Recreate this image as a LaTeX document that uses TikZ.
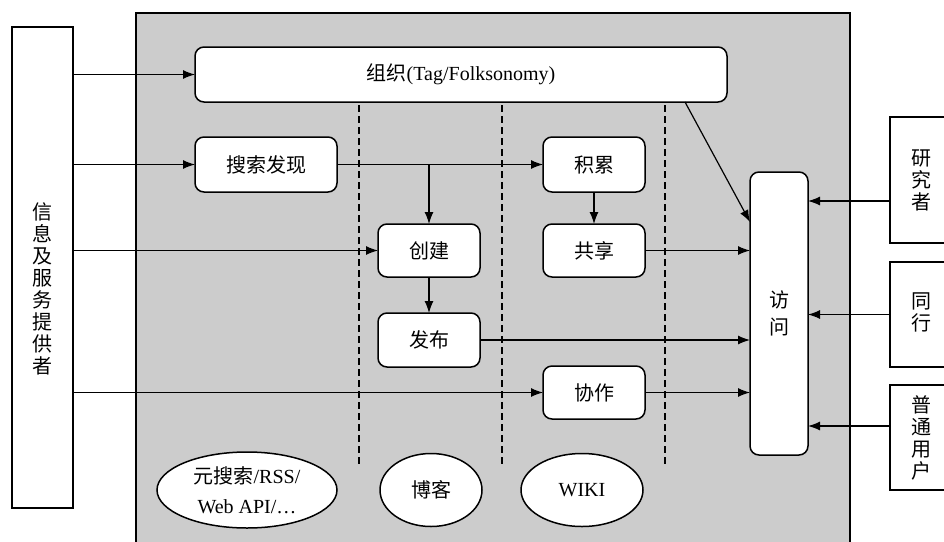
\documentclass[tikz,border=0pt]{standalone}
\usepackage{fontspec}
\setmainfont{Liberation Serif}
\newfontfamily\cjk{Noto Sans CJK SC}
\usetikzlibrary{shapes.geometric,arrows.meta,calc}
\begin{document}
\begin{tikzpicture}[x=1pt,y=-1pt,
  every node/.style={inner sep=0pt, outer sep=0pt},
  rbox/.style={draw, fill=white, rounded corners=9pt, line width=1.5pt, font=\fontsize{20}{24}\selectfont},
  sqbox/.style={draw, fill=white, line width=1.2pt},
  oval/.style={ellipse, draw, fill=white, line width=1.5pt, align=center, font=\fontsize{20}{30}\selectfont},
  arr/.style={line width=1.2pt, -{Latex[length=12pt,width=9pt]}},
  vtext/.style={align=center, font=\cjk\fontsize{20}{22}\selectfont},
  sep/.style={dash pattern=on 7pt off 4pt, line width=1.4pt}
]
\useasboundingbox (0,0) rectangle (944,541);
\clip (0,0) rectangle (944,541);
\fill[white] (0,0) rectangle (944,541);

% shaded panel
\draw[fill=black!20, line width=1.2pt] (136,13) rectangle (850,560);

% dashed separators
\draw[sep] (359,105) -- (359,466);
\draw[sep] (502,105) -- (502,466);
\draw[sep] (665,105) -- (665,464);

% left provider box
\node[sqbox, minimum width=61pt, minimum height=481pt] (prov) at (42.5,267.5) {};
\node[vtext] (provt) at (42.5,289) {信\\息\\及\\服\\务\\提\\供\\者};

% right user boxes
\node[sqbox, minimum width=62pt, minimum height=126pt] (res) at (921,180) {};
\node[vtext] (rest) at (921,180) {研\\究\\者};
\node[sqbox, minimum width=62pt, minimum height=105pt] (peer) at (921,314.5) {};
\node[vtext] (peert) at (921,312) {同\\行};
\node[sqbox, minimum width=62pt, minimum height=105pt] (user) at (921,437.5) {};
\node[vtext] (usert) at (921,437.5) {普\\通\\用\\户};

% rounded boxes
\node[rbox, minimum width=532pt, minimum height=55pt] (org) at (461,74.5) {{\cjk 组织}(Tag/Folksonomy)};
\node[rbox, minimum width=142pt, minimum height=55pt] (search) at (266,164.5) {\cjk 搜索发现};
\node[rbox, minimum width=102pt, minimum height=53pt] (create) at (429,250.5) {\cjk 创建};
\node[rbox, minimum width=102pt, minimum height=54pt] (publish) at (429,340) {\cjk 发布};
\node[rbox, minimum width=102pt, minimum height=55pt] (accum) at (594,164.5) {\cjk 积累};
\node[rbox, minimum width=102pt, minimum height=53pt] (share) at (594,250.5) {\cjk 共享};
\node[rbox, minimum width=102pt, minimum height=53pt] (collab) at (594,392.5) {\cjk 协作};
\node[rbox, minimum width=58pt, minimum height=283pt, font=\cjk\fontsize{20}{27}\selectfont, align=center] (access) at (779,313.5) {访\\问};

% ellipses
\node[oval, minimum width=180pt, minimum height=76pt] (meta) at (247,490) {{\cjk 元搜索}/RSS/\\Web API/…};
\node[oval, minimum width=102pt, minimum height=73pt] (blog) at (431,490) {\cjk 博客};
\node[oval, minimum width=122pt, minimum height=73pt] (wiki) at (582,490) {WIKI};

% arrows from provider
\draw[arr] (prov.east |- org.west) -- (org.west);
\draw[arr] (prov.east |- search.west) -- (search.west);
\draw[arr] (prov.east |- create.west) -- (create.west);
\draw[arr] (prov.east |- collab.west) -- (collab.west);

% inner flow
\draw[arr] (search.east) -- (accum.west);
\draw[arr] (create.north |- search.east) -- (create.north);
\draw[arr] (accum.south) -- (share.north);
\draw[arr] (create.south) -- (publish.north);
\draw[arr] (share.east) -- (access.west |- share.east);
\draw[arr] (publish.east) -- (access.west |- publish.east);
\draw[arr] (collab.east) -- (access.west |- collab.east);

\coordinate (orgout) at (685,102);
\coordinate (accin) at (750,222);
\draw[arr] (orgout) -- (accin);

% user arrows
\coordinate (resout) at ([yshift=-21pt]res.west);
\coordinate (userout) at ([yshift=11.5pt]user.west);
\draw[arr] (resout) -- (access.east |- resout);
\draw[arr] (peer.west) -- (access.east |- peer.west);
\draw[arr] (userout) -- (access.east |- userout);
\end{tikzpicture}
\end{document}
